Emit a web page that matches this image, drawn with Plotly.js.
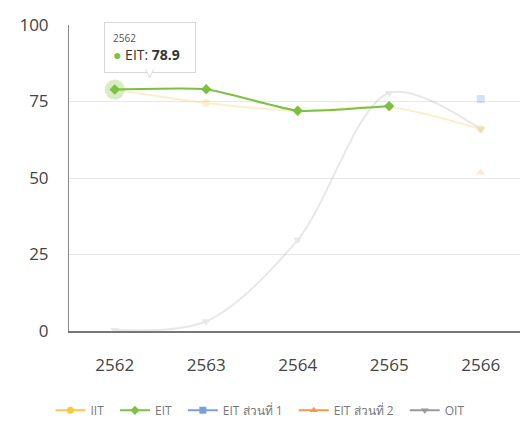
<!DOCTYPE html>
<html><head><meta charset="utf-8">
<script src="https://cdn.plot.ly/plotly-3.0.1.min.js"></script>
<style>html,body{margin:0;padding:0;background:#fff}#c{width:520px;height:424px}</style>
</head><body><div id="c"></div>
<script>
const years = ['2562','2563','2564','2565','2566'];
const iit   = [78.9, 74.5, 72.0, 73.2, 66.0];
const eit   = [78.9, 79.0, 72.0, 73.5, null];
const eit1  = [null, null, null, null, 75.8];
const eit2  = [null, null, null, null, 51.8];
const oit   = [0.3, 3.2, 29.8, 77.8, 66.0];
const yTicks = [0, 25, 50, 75, 100];

const FONT = 'Open Sans, Noto Sans, sans-serif';
function series(name, y, color, symbol, op, sm) {
  return {x: years, y: y, name: name, type: 'scatter', mode: 'lines+markers',
    line: {color: color, width: 2, shape: 'spline', smoothing: sm},
    marker: {color: color, symbol: symbol, size: 8},
    opacity: op, showlegend: false, connectgaps: false, hoverinfo: 'skip'};
}
const NB = '\u00a0\u00a0';
function leg(name, color, symbol) {
  return {x: [years[0]], y: [null], name: name + NB, type: 'scatter', mode: 'lines+markers',
    line: {color: color, width: 2}, marker: {color: color, symbol: symbol, size: 7}, showlegend: true};
}
const cIIT = '#f7c846', cEIT = '#7dc142', cE1 = '#7a9fd8', cE2 = '#f59a4a', cOIT = '#9a9a9a';
const data = [
  series('IIT', iit, cIIT, 'circle', 0.28, 0.8),
  series('EIT ส่วนที่ 1', eit1, cE1, 'square', 0.3, 0.8),
  series('EIT ส่วนที่ 2', eit2, cE2, 'triangle-up', 0.22, 0.8),
  series('OIT', oit, cOIT, 'triangle-down', 0.22, 0.9),
  {x: [years[0]], y: [eit[0]], type: 'scatter', mode: 'markers', showlegend: false,
   marker: {color: 'rgba(125,193,66,0.3)', size: 20, symbol: 'circle'}, hoverinfo: 'skip'},
  series('EIT', eit, cEIT, 'diamond', 1, 0.5),
  leg('IIT', cIIT, 'circle'),
  leg('EIT', cEIT, 'diamond'),
  leg('EIT ส่วนที่ 1', cE1, 'square'),
  leg('EIT ส่วนที่ 2', cE2, 'triangle-up'),
  leg('OIT', cOIT, 'triangle-down')
];
const tipText = '<span style="font-size:10px;color:#555">' + years[0] + '</span><br>' +
  '<span style="color:' + cEIT + '">●</span> EIT: <b>' + eit[0] + '</b>\u00a0\u00a0';
const layout = {
  width: 520, height: 424,
  margin: {l: 69, r: 0, t: 25, b: 93, autoexpand: false},
  paper_bgcolor: '#fff', plot_bgcolor: '#fff',
  font: {family: FONT, color: '#444'},
  showlegend: true,
  legend: {orientation: 'h', x: 0.43, xanchor: 'center', y: -0.212, yanchor: 'top',
    font: {size: 12, color: '#777'}, itemwidth: 30},
  xaxis: {type: 'category', range: [-0.5, 4.43], showgrid: false, zeroline: false,
    showline: true, linecolor: '#777', linewidth: 2, ticks: '',
    ticklabelstandoff: 18, tickfont: {size: 17, color: '#444'}, fixedrange: true},
  yaxis: {range: [0, 100], tickvals: yTicks, ticktext: yTicks.map(String),
    showgrid: true, gridcolor: '#e8e8e8', gridwidth: 1, zeroline: false,
    showline: true, linecolor: '#888', linewidth: 1, ticks: '',
    ticklabelstandoff: 16, tickfont: {size: 17, color: '#444'}, fixedrange: true},
  annotations: [{
    x: 0, y: eit[0], xref: 'x', yref: 'y', showarrow: false,
    xshift: 35, yshift: 42, xanchor: 'center', yanchor: 'middle', align: 'left',
    text: tipText,
    font: {size: 14, color: '#333', family: FONT},
    bgcolor: '#ffffff', bordercolor: '#d8d8d8', borderwidth: 1, borderpad: 8
  }, {
    x: 0, y: eit[0], xref: 'x', yref: 'y', showarrow: false,
    xshift: 35, yshift: 17, xanchor: 'center', yanchor: 'middle',
    text: '▼', font: {size: 12, color: '#d8d8d8', family: 'DejaVu Sans'}
  }, {
    x: 0, y: eit[0], xref: 'x', yref: 'y', showarrow: false,
    xshift: 35, yshift: 18.5, xanchor: 'center', yanchor: 'middle',
    text: '▼', font: {size: 12, color: '#ffffff', family: 'DejaVu Sans'}
  }]
};
Plotly.newPlot('c', data, layout, {displayModeBar: false});
</script></body></html>
